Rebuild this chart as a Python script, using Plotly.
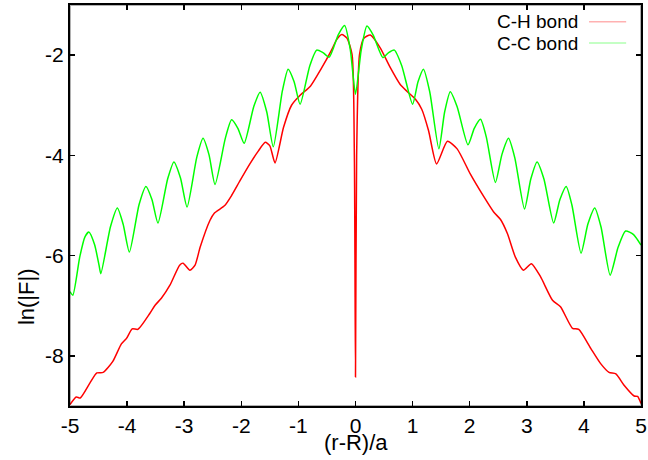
import plotly.graph_objects as go

# C-H bond (red)
ch_x = [-5.00, -4.89, -4.82, -4.65, -4.53, -4.42, -4.25, -4.10, -4.01, -3.91, -3.81,
        -3.60, -3.51, -3.40, -3.25, -3.08, -3.02, -2.90, -2.81, -2.72, -2.55, -2.47,
        -2.29, -2.17, -2.02, -1.85, -1.70, -1.58, -1.50, -1.41, -1.26, -1.12, -0.97,
        -0.79, -0.60, -0.42, -0.33, -0.24, -0.15, -0.06, -0.02, 0.00, 0.02, 0.07,
        0.15, 0.26, 0.43, 0.61, 0.78, 0.90, 1.05, 1.16, 1.28, 1.42, 1.61, 1.78,
        2.01, 2.25, 2.42, 2.54, 2.66, 2.80, 2.94, 3.08, 3.24, 3.45, 3.59, 3.80,
        3.91, 4.12, 4.29, 4.44, 4.56, 4.70, 4.88, 4.94, 5.00]
ch_y = [-8.97, -8.82, -8.84, -8.54, -8.34, -8.33, -8.11, -7.76, -7.65, -7.46, -7.47,
        -7.15, -6.99, -6.85, -6.59, -6.19, -6.15, -6.29, -6.19, -5.83, -5.30, -5.15,
        -5.00, -4.80, -4.50, -4.17, -3.91, -3.74, -3.81, -4.15, -3.44, -3.00, -2.80,
        -2.62, -2.27, -1.90, -1.69, -1.59, -1.66, -1.99, -4.00, -8.42, -4.00, -1.99,
        -1.66, -1.60, -1.85, -2.25, -2.58, -2.72, -2.88, -3.08, -3.51, -4.17, -3.72, -3.87,
        -4.37, -4.83, -5.13, -5.28, -5.56, -6.03, -6.29, -6.16, -6.42, -6.89, -7.02, -7.45,
        -7.47, -7.85, -8.15, -8.33, -8.36, -8.58, -8.80, -8.81, -8.95]

# C-C bond (green)
cc_x = [-5.00, -4.95, -4.83, -4.74, -4.67, -4.57, -4.49, -4.46, -4.29, -4.17, -4.07,
        -3.96, -3.79, -3.67, -3.565, -3.46, -3.29, -3.18, -3.065, -2.95, -2.78, -2.67,
        -2.565, -2.46, -2.28, -2.17, -2.06, -1.95, -1.78, -1.67, -1.555, -1.44, -1.28,
        -1.18, -1.075, -0.97, -0.80, -0.68, -0.57, -0.46, -0.30, -0.19, -0.09, 0.00,
        0.10, 0.20, 0.31, 0.48, 0.58, 0.68, 0.81, 1.00, 1.095, 1.19, 1.30, 1.46,
        1.56, 1.66, 1.78, 1.97, 2.08, 2.19, 2.29, 2.45, 2.565, 2.68, 2.79, 2.96,
        3.07, 3.18, 3.30, 3.47, 3.58, 3.69, 3.79, 3.95, 4.07, 4.19, 4.30, 4.46,
        4.60, 4.73, 4.87, 5.00]
cc_y = [-6.72, -6.79, -6.03, -5.63, -5.53, -5.78, -6.20, -6.36, -5.42, -5.05, -5.37,
        -5.93, -4.98, -4.62, -4.88, -5.35, -4.47, -4.13, -4.45, -5.03, -4.04, -3.66,
        -3.99, -4.58, -3.66, -3.29, -3.46, -3.76, -3.02, -2.74, -3.13, -3.83, -2.71,
        -2.28, -2.53, -2.98, -2.21, -1.90, -1.95, -2.04, -1.59, -1.41, -1.90, -2.78,
        -1.90, -1.42, -1.60, -2.05, -1.95, -1.90, -2.21, -2.98, -2.53, -2.28, -2.73, -3.87,
        -3.14, -2.73, -3.03, -3.79, -3.46, -3.28, -3.63, -4.54, -3.98, -3.66, -4.05, -5.07,
        -4.47, -4.13, -4.47, -5.35, -4.88, -4.62, -4.99, -5.95, -5.37, -5.05, -5.43, -6.39,
        -5.83, -5.51, -5.58, -5.79]

series_names = ["C-H bond", "C-C bond"]
series_colors = ["#ff0000", "#00ff00"]

x_ticks = [-5, -4, -3, -2, -1, 0, 1, 2, 3, 4, 5]
y_ticks = [-8, -6, -4, -2]

FONT = "Liberation Sans, Arial, Helvetica, sans-serif"
FS = 21

fig = go.Figure()
for xs, ys, name, col in [(ch_x, ch_y, series_names[0], series_colors[0]),
                          (cc_x, cc_y, series_names[1], series_colors[1])]:
    fig.add_trace(go.Scatter(x=xs, y=ys, mode="lines", name=name,
                             line=dict(color=col, width=1.5, shape="spline", smoothing=0.6),
                             showlegend=False))

fig.update_layout(
    template="simple_white",
    width=648, height=460,
    margin=dict(l=70, r=7, t=5, b=54),
    paper_bgcolor="white", plot_bgcolor="white",
    font=dict(family=FONT, size=FS, color="black"),
)
fig.update_xaxes(range=[-5, 5], tickvals=x_ticks, ticktext=[str(v) for v in x_ticks],
                 showline=True, linecolor="black", linewidth=2, mirror="allticks",
                 ticks="inside", ticklen=5, tickwidth=1.5, tickcolor="black",
                 showgrid=False, zeroline=False, automargin=False,
                 ticklabeloverflow="allow")
fig.update_yaxes(range=[-9, -1], tickvals=y_ticks, ticktext=[str(v) for v in y_ticks],
                 showline=True, linecolor="black", linewidth=2, mirror="allticks",
                 ticks="inside", ticklen=5, tickwidth=1.5, tickcolor="black",
                 showgrid=False, zeroline=False, automargin=False)

# plot frame
fig.add_shape(type="rect", xref="paper", yref="paper", x0=0, x1=1, y0=0, y1=1,
              line=dict(color="black", width=2), fillcolor="rgba(0,0,0,0)", layer="above")

# axis labels
fig.add_annotation(text="(r-R)/a", xref="paper", yref="paper", x=0.5, y=-0.09,
                   showarrow=False, xanchor="center", yanchor="middle",
                   font=dict(family=FONT, size=22, color="black"))
fig.add_annotation(text="ln(|F|)", xref="paper", yref="paper", x=-0.075, y=0.272,
                   textangle=-90, showarrow=False, xanchor="center", yanchor="middle",
                   font=dict(family=FONT, size=22, color="black"))

# key (text on the left, line sample on the right)
key_y = [0.958, 0.905]
for name, col, ky in zip(series_names, series_colors, key_y):
    fig.add_annotation(text=name, xref="paper", yref="paper", x=0.893, y=ky,
                       xanchor="right", yanchor="middle", showarrow=False,
                       font=dict(family=FONT, size=19, color="black"))
    fig.add_shape(type="line", xref="paper", yref="paper", x0=0.909, x1=0.974,
                  y0=ky, y1=ky, line=dict(color=col, width=1.5))

fig.write_html("out.html", config={"displayModeBar": False, "staticPlot": True},
               post_script="document.body.style.margin='0';document.body.style.padding='0';")
